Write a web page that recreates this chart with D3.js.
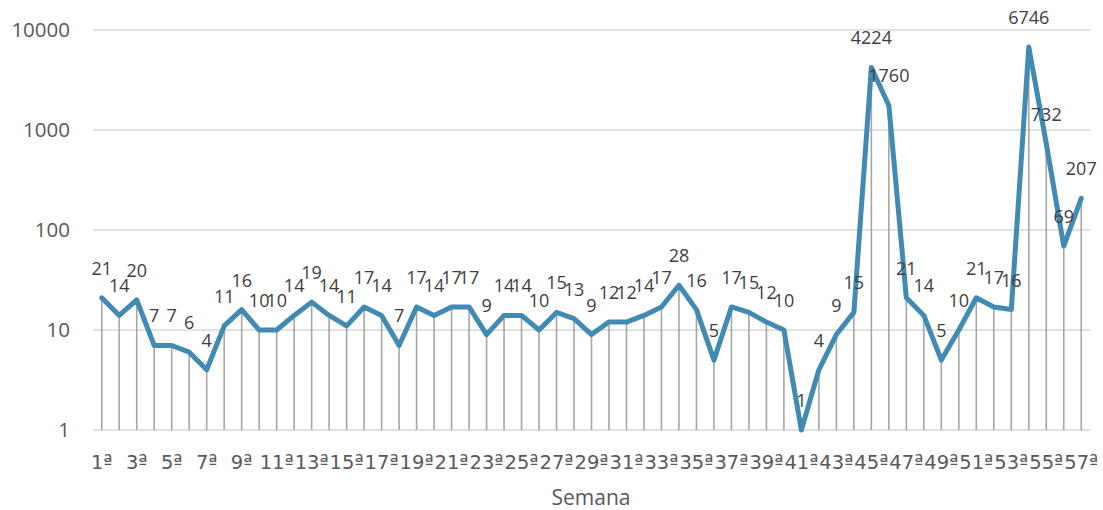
<!DOCTYPE html>
<html><head><meta charset="utf-8">
<script src="https://cdn.jsdelivr.net/npm/d3@7"></script>
<style>body{margin:0;background:#fff}svg{display:block}text{font-family:"Open Sans",sans-serif}text.xt{font-family:"DejaVu Sans",sans-serif}</style>
</head><body><div id="chart"></div>
<script>
const weeks = d3.range(1, 58).map(i => i + "ª");
const values = [21,14,20,7,7,6,4,11,16,10,10,14,19,14,11,17,14,7,17,14,17,17,9,14,14,10,15,13,9,12,12,14,17,28,16,5,17,15,12,10,1,4,9,15,4224,1760,21,14,5,10,21,17,16,6746,732,69,207];
const yTicks = [1,10,100,1000,10000];
const xTickLabels = weeks.filter((d,i) => i % 2 === 0);
const xTitle = "Semana";

const W = 1103, H = 510;
const svg = d3.select("#chart").append("svg").attr("width", W).attr("height", H);
const x = d3.scaleBand().domain(weeks).range([93, 1090]);
const y = d3.scaleLog().domain([1, 10000]).range([430, 30]);
const cx = d => x(d) + x.bandwidth()/2;

// gridlines
svg.append("g").selectAll("line").data(yTicks).join("line")
  .attr("x1", 93).attr("x2", 1090)
  .attr("y1", d => y(d)).attr("y2", d => y(d))
  .attr("stroke", "#d9d9d9").attr("stroke-width", 1.5);

// y tick labels
svg.append("g").selectAll("text").data(yTicks).join("text")
  .attr("x", 70).attr("y", d => y(d)).attr("dy", "0.35em")
  .attr("text-anchor", "end").attr("font-size", 20.5).attr("fill", "#595959")
  .text(d => d);

// drop lines
svg.append("g").selectAll("line").data(values).join("line")
  .attr("x1", (d,i) => cx(weeks[i])).attr("x2", (d,i) => cx(weeks[i]))
  .attr("y1", d => y(d)).attr("y2", y(1))
  .attr("stroke", "#a6a6a6").attr("stroke-width", 1.6);

// line
const line = d3.line().x((d,i) => cx(weeks[i])).y(d => y(d));
svg.append("path").datum(values).attr("d", line)
  .attr("fill", "none").attr("stroke", "#418ab3").attr("stroke-width", 5)
  .attr("stroke-linejoin", "round").attr("stroke-linecap", "round");

// data labels
svg.append("g").selectAll("text").data(values).join("text")
  .attr("x", (d,i) => cx(weeks[i])).attr("y", d => y(d) - 23)
  .attr("text-anchor", "middle").attr("font-size", 18).attr("fill", "#404040")
  .text(d => d);

// x tick labels
svg.append("g").selectAll("text").data(xTickLabels).join("text")
  .attr("class", "xt")
  .attr("x", d => cx(d)).attr("y", 462).attr("dy", "0.35em")
  .attr("text-anchor", "middle").attr("font-size", 19.5).attr("fill", "#595959")
  .text(d => d);

// x title
svg.append("text").attr("x", 591).attr("y", 498).attr("dy", "0.35em")
  .attr("text-anchor", "middle").attr("font-size", 21).attr("fill", "#595959")
  .text(xTitle);
</script></body></html>
